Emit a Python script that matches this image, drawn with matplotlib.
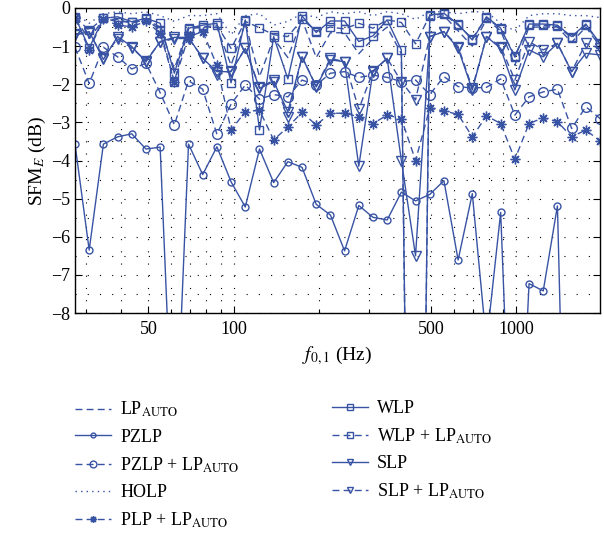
import matplotlib
matplotlib.use("Agg")
import matplotlib.pyplot as plt
from matplotlib.ticker import FixedLocator, NullFormatter, MultipleLocator

plt.rcParams['font.family'] = ['Liberation Serif', 'DejaVu Serif']
plt.rcParams['mathtext.fontset'] = 'stix'

# fundamental frequency (Hz), whole-tone steps from A0
freq = [27.5, 30.87, 34.65, 38.89, 43.65, 49.0, 55.0, 61.74, 69.3, 77.78,
        87.31, 98.0, 110.0, 123.5, 138.6, 155.6, 174.6, 196.0, 220.0, 246.9,
        277.2, 311.1, 349.2, 392.0, 440.0, 493.9, 554.4, 622.3, 698.5, 784.0,
        880.0, 987.8, 1108.7, 1244.5, 1396.9, 1568.0, 1760.0, 1975.5]

# SFM_E in dB (values below -8 run off the axes)
lp_auto = [-0.30, -0.80, -0.30, -0.30, -0.40, -0.30, -0.50, -1.60, -0.50, -0.50,
           -0.50, -1.50, -0.40, -1.80, -0.80, -1.30, -0.30, -1.30, -0.65, -0.65,
           -1.20, -0.80, -0.50, -1.20, -30.0, -0.30, -0.20, -0.60, -1.00, -0.30,
           -0.60, -1.50, -0.50, -0.50, -0.50, -0.90, -0.50, -1.00]
pzlp = [-3.57, -6.35, -3.57, -3.38, -3.30, -3.70, -3.65, -12.5, -3.57, -4.37,
        -3.64, -4.56, -5.22, -3.70, -4.58, -4.03, -4.18, -5.15, -5.43, -6.37,
        -5.18, -5.49, -5.56, -4.83, -5.06, -4.89, -4.53, -6.61, -4.87, -8.8,
        -5.36, -15.0, -7.23, -7.42, -5.19, -20.0, -15.0, -15.0]
pzlp_lp = [-1.03, -1.98, -1.03, -1.28, -1.60, -1.45, -2.22, -3.07, -1.91, -2.13,
           -3.31, -2.52, -2.02, -2.39, -2.27, -2.33, -1.89, -2.02, -1.71, -1.67,
           -1.82, -1.76, -1.82, -1.93, -1.89, -2.27, -1.80, -2.06, -2.10, -2.08,
           -1.86, -2.81, -2.33, -2.20, -2.13, -3.16, -2.59, -2.90]
holp = [-0.15, -0.40, -0.15, -0.10, -0.15, -0.10, -0.20, -0.35, -0.20, -0.20,
        -0.15, -0.70, -0.20, -0.15, -0.45, -0.35, -0.15, -0.25, -0.10, -0.15,
        -0.10, -0.20, -0.10, -0.15, -0.30, -0.10, -0.10, -0.15, -0.10, -0.10,
        -0.40, -0.60, -0.20, -0.15, -0.15, -0.20, -0.20, -0.25]
plp_lp = [-0.27, -1.10, -0.30, -0.45, -0.49, -0.35, -0.66, -1.93, -0.75, -0.62,
          -1.50, -3.20, -2.72, -2.68, -3.46, -3.12, -2.74, -3.07, -2.76, -2.76,
          -2.85, -3.03, -2.81, -2.90, -4.00, -2.63, -2.70, -2.79, -3.38, -2.83,
          -3.03, -3.97, -3.03, -2.88, -2.98, -3.38, -3.20, -3.49]
wlp = [-0.23, -1.05, -0.27, -0.23, -0.36, -0.27, -0.40, -1.71, -0.53, -0.45,
       -0.40, -1.96, -0.31, -3.20, -0.75, -1.86, -0.21, -0.64, -0.34, -0.34,
       -0.88, -0.73, -0.31, -1.10, -30.0, -0.18, -0.14, -0.42, -0.84, -0.23,
       -0.53, -1.29, -0.42, -0.42, -0.45, -0.75, -0.42, -0.93]
wlp_lp = [-0.25, -0.58, -0.27, -0.36, -0.36, -0.30, -0.58, -1.93, -0.55, -0.50,
          -0.45, -1.06, -0.35, -0.52, -0.70, -0.75, -0.30, -0.60, -0.50, -0.55,
          -0.40, -0.53, -0.31, -0.38, -0.94, -0.20, -0.16, -0.45, -0.80, -0.25,
          -0.55, -1.25, -0.45, -0.45, -0.48, -0.78, -0.45, -0.95]
slp = [-0.71, -0.62, -1.35, -0.75, -1.01, -1.41, -0.88, -0.77, -0.77, -1.32,
       -1.67, -1.67, -1.06, -2.11, -1.93, -2.72, -1.28, -2.07, -1.36, -1.41,
       -4.15, -1.65, -1.32, -4.00, -6.50, -0.75, -0.62, -1.06, -2.15, -0.75,
       -1.06, -2.15, -1.10, -1.28, -0.93, -1.67, -1.19, -1.23]
slp_lp = [-0.68, -0.65, -1.30, -0.80, -1.05, -1.38, -0.90, -0.80, -0.80, -1.30,
          -1.76, -1.65, -1.06, -2.08, -1.90, -2.85, -1.28, -2.05, -1.32, -1.41,
          -2.65, -1.67, -1.32, -1.93, -2.41, -0.75, -0.62, -1.01, -2.10, -0.75,
          -1.01, -1.89, -0.88, -1.10, -0.93, -1.67, -0.93, -1.06]

blue = '#3853a4'
dash = (0, (5, 3))
asterisk = (8, 2, 0)

fig = plt.figure(figsize=(6.04, 5.33), dpi=100)
ax = fig.add_axes([75/604, 1-313/533, 525/604, 305/533])

kw = dict(color=blue, lw=1.0, mfc='none', mec=blue, mew=1.0)
h1, = ax.plot(freq, lp_auto, ls=dash, label=r'LP$_{\mathrm{AUTO}}$', **kw)
h2, = ax.plot(freq, pzlp, ls='-', marker='o', ms=5, label='PZLP', **kw)
h3, = ax.plot(freq, pzlp_lp, ls=dash, marker='o', ms=7,
              label=r'PZLP + LP$_{\mathrm{AUTO}}$', **kw)
h4, = ax.plot(freq, holp, ls=(0, (1, 3)), label='HOLP', **kw)
h5, = ax.plot(freq, plp_lp, ls=dash, marker=asterisk, ms=7,
              label=r'PLP + LP$_{\mathrm{AUTO}}$', **kw)
h6, = ax.plot(freq, wlp, ls='-', marker='s', ms=5.5, label='WLP', **kw)
h7, = ax.plot(freq, wlp_lp, ls=dash, marker='s', ms=5.5,
              label=r'WLP + LP$_{\mathrm{AUTO}}$', **kw)
h8, = ax.plot(freq, slp, ls='-', marker='v', ms=7, label='SLP', **kw)
h9, = ax.plot(freq, slp_lp, ls=dash, marker='v', ms=7,
              label=r'SLP + LP$_{\mathrm{AUTO}}$', **kw)

ax.set_xscale('log')
ax.set_xlim(27.5, 1975.5)
ax.set_ylim(-8, 0)

ax.xaxis.set_major_locator(FixedLocator([50, 100, 500, 1000]))
ax.xaxis.set_minor_locator(FixedLocator([30, 40, 60, 70, 80, 90, 200, 300, 400,
                                         600, 700, 800, 900]))
ax.xaxis.set_minor_formatter(NullFormatter())
ax.set_xticklabels(['50', '100', '500', '1000'])
ax.yaxis.set_major_locator(MultipleLocator(1))
ax.yaxis.set_minor_locator(MultipleLocator(0.5))
ax.set_yticks(range(-8, 1))
ax.set_yticklabels(['\u22128', '\u22127', '\u22126', '\u22125', '\u22124',
                    '\u22123', '\u22122', '\u22121', '0'])

ax.tick_params(which='both', direction='in', top=True, right=True,
               labelsize=13, colors='black')
ax.tick_params(which='major', length=5, width=0.8)
ax.tick_params(which='minor', length=3, width=0.8)
ax.tick_params(axis='y', which='minor', length=0)
ax.tick_params(axis='x', pad=6)
ax.grid(True, which='both', color='black', ls=(0, (1, 10)), lw=0.8)
for s in ax.spines.values():
    s.set_linewidth(1.0)

ax.set_xlabel(r'$f_{0,1}$ (Hz)', fontsize=14, labelpad=4)
ax.set_ylabel(r'SFM$_{E}$ (dB)', fontsize=14, labelpad=2)

leg_kw = dict(frameon=False, fontsize=13, handlelength=2.0, handletextpad=0.5,
              labelspacing=0.52, borderaxespad=0, borderpad=0, markerscale=0.7)
fig.legend(handles=[h1, h2, h3, h4, h5], loc='upper left',
           bbox_to_anchor=(75/604, 1-400/533), **leg_kw)
fig.legend(handles=[h6, h7, h8, h9], loc='upper left',
           bbox_to_anchor=(332/604, 1-400/533), **leg_kw)

fig.savefig('out.png', dpi=100)
